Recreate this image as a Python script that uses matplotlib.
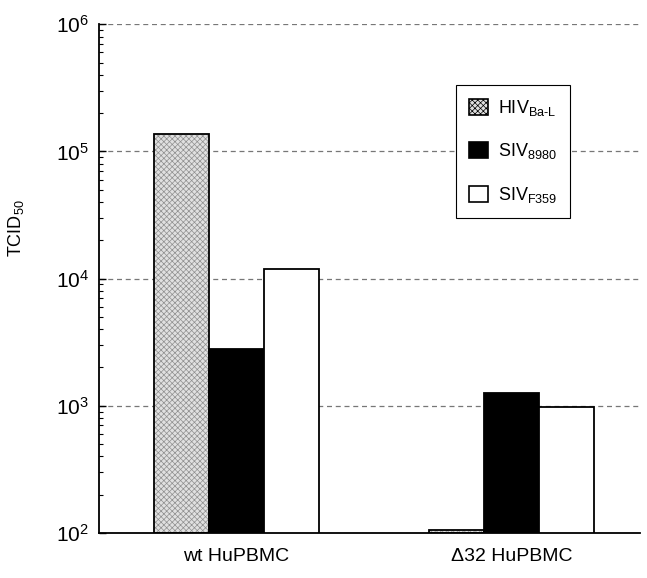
import matplotlib
matplotlib.use("Agg")
import matplotlib.pyplot as plt
from matplotlib.patches import Patch
import numpy as np

plt.rcParams['font.family'] = ['Liberation Sans', 'DejaVu Sans']
plt.rcParams['mathtext.fontset'] = 'custom'
plt.rcParams['mathtext.rm'] = 'Liberation Sans'
plt.rcParams['mathtext.it'] = 'Liberation Sans'
plt.rcParams['hatch.linewidth'] = 0.5

groups = ['wt HuPBMC', '\u039432 HuPBMC']
hiv_bal = [1.38e5, 1.05e2]
siv_8980 = [2.8e3, 1.25e3]
siv_f359 = [1.18e4, 9.7e2]

labels = [r'HIV$_{\mathdefault{Ba\text{-}L}}$',
          r'SIV$_{\mathdefault{8980}}$',
          r'SIV$_{\mathdefault{F359}}$']

centers = np.array([1.0, 6.0])
w = 1.0
base = 1e2

fig = plt.figure(figsize=(6.47, 5.78), dpi=100)
ax = fig.add_axes([0.153, 0.078, 0.836, 0.880])
ax.set_yscale('log')
ax.set_ylim(1e2, 1e6)
ax.set_xlim(-1.5, 8.34)

# stippled HIV bars: gray texture then black outline
hiv_h = np.array(hiv_bal) - base
ax.bar(centers - w, hiv_h, w, bottom=base, color='#e0e0e0', hatch='xxxxxx',
       edgecolor='#8f8f8f', linewidth=0, zorder=2)
ax.bar(centers - w, hiv_h, w, bottom=base, fill=False, edgecolor='black',
       linewidth=1.3, zorder=3)
ax.bar(centers, np.array(siv_8980) - base, w, bottom=base, color='black',
       edgecolor='black', linewidth=1.3, zorder=3)
ax.bar(centers + w, np.array(siv_f359) - base, w, bottom=base, color='white',
       edgecolor='black', linewidth=1.3, zorder=3)

ax.yaxis.grid(True, which='major', linestyle=(0, (4, 3)), color='#777777',
              linewidth=0.9, zorder=0)
ax.set_axisbelow(True)

ax.spines['top'].set_visible(False)
ax.spines['right'].set_visible(False)
ax.spines['left'].set_linewidth(1.3)
ax.spines['bottom'].set_linewidth(1.3)

ax.tick_params(axis='y', which='major', direction='in', length=5, width=1,
               labelsize=15, pad=7)
ax.tick_params(axis='y', which='minor', direction='in', length=3, width=0.8)
ax.set_xticks(centers)
ax.set_xticklabels(groups, fontsize=14)
ax.tick_params(axis='x', length=0, pad=11)

ax.set_ylabel(r'TCID$_{\mathdefault{50}}$', fontsize=13)
ax.yaxis.set_label_coords(-0.135, 0.60)

handles = [Patch(facecolor='#e0e0e0', hatch='xxxxxx', edgecolor='black', linewidth=1.2),
           Patch(facecolor='black', edgecolor='black', linewidth=1.2),
           Patch(facecolor='white', edgecolor='black', linewidth=1.2)]
leg = ax.legend(handles, labels, loc='upper left',
                bbox_to_anchor=(0.66, 0.88), fontsize=13, frameon=True,
                fancybox=False, edgecolor='black', framealpha=1,
                handlelength=1.05, handleheight=1.0, labelspacing=1.3,
                borderpad=0.7, borderaxespad=0, handletextpad=0.6)
leg.get_frame().set_linewidth(0.8)

fig.savefig('out.png', dpi=100)
